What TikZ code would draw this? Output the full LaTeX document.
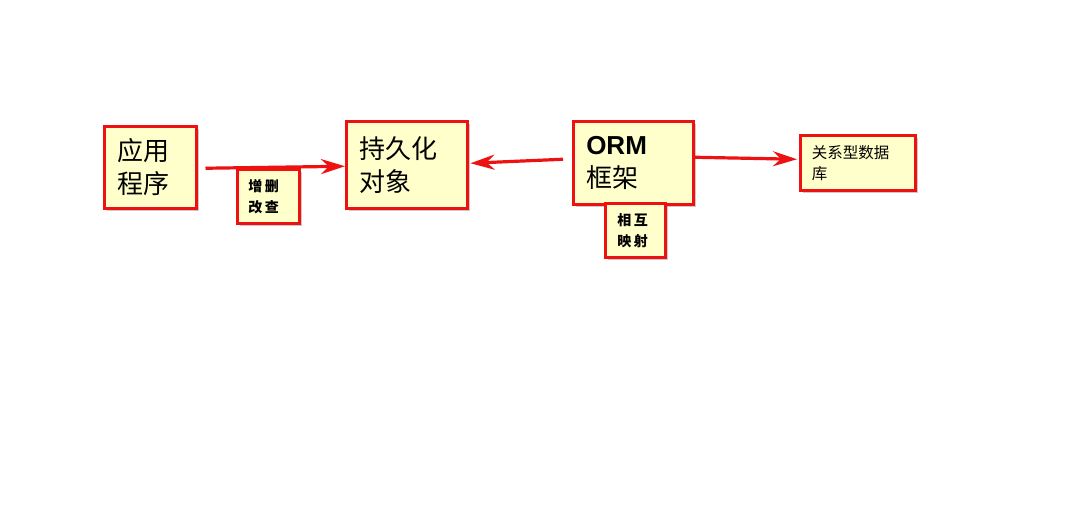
\documentclass[tikz,border=0pt]{standalone}
\usepackage{fontspec}
\newfontfamily\cjk{Noto Sans CJK SC}
\newfontfamily\cjksp[LetterSpace=18]{Noto Sans CJK SC}
\newfontfamily\arialf{Liberation Sans}
\usetikzlibrary{arrows.meta,shadows}
\definecolor{boxfill}{HTML}{FFFFCC}
\definecolor{boxred}{HTML}{EE1111}
\tikzset{
  box/.style={draw=boxred, line width=2.5pt, fill=boxfill, anchor=north west,
    inner xsep=12pt, inner ysep=0pt, align=left,
    drop shadow={shadow xshift=3pt, shadow yshift=-3pt, fill=black!35, opacity=0.6}},
  bigtxt/.style={font=\cjk\fontsize{26}{33}\selectfont},
  smalltxt/.style={font=\cjksp\bfseries\fontsize{14}{21}\selectfont},
  dbtxt/.style={font=\cjk\fontsize{15.5}{21}\selectfont},
  arr/.style={draw=boxred, line width=3.2pt, -{Stealth[length=24pt,width=15pt]}}
}
\begin{document}
\begin{tikzpicture}[x=1pt,y=-1pt]
\useasboundingbox (0,0) rectangle (1088,530);
\node[box, bigtxt, minimum width=92pt, minimum height=82pt, text width=66pt] (app) at (103,125) {应用\\程序};
\node[box, bigtxt, minimum width=121pt, minimum height=87pt, text width=95pt] (obj) at (345,120) {持久化\\对象};
\node[box, bigtxt, minimum width=120pt, minimum height=83pt, text width=94pt] (orm) at (572,120) {{\arialf\bfseries ORM}\\框架};
\node[box, dbtxt, minimum width=115pt, minimum height=55pt, text width=92pt, inner xsep=11pt] (db) at (799,134) {关系型数据\\库};
\node[box, smalltxt, minimum width=62pt, minimum height=54pt, text width=40pt, inner xsep=11pt] (crud) at (236,168) {增删\\改查};
\node[box, smalltxt, minimum width=60pt, minimum height=54pt, text width=36pt, inner xsep=12pt] (map) at (604,202) {相互\\映射};
\draw[arr] ([xshift=8pt,yshift=-1pt]app.east) -- ([yshift=-1.5pt]obj.west);
\draw[arr] ([xshift=-9pt,yshift=3.5pt]orm.west) -- ([xshift=2pt,yshift=1.5pt]obj.east);
\draw[arr] ([yshift=5.5pt]orm.east) -- ([xshift=-2pt,yshift=3.5pt]db.west);
\end{tikzpicture}
\end{document}
